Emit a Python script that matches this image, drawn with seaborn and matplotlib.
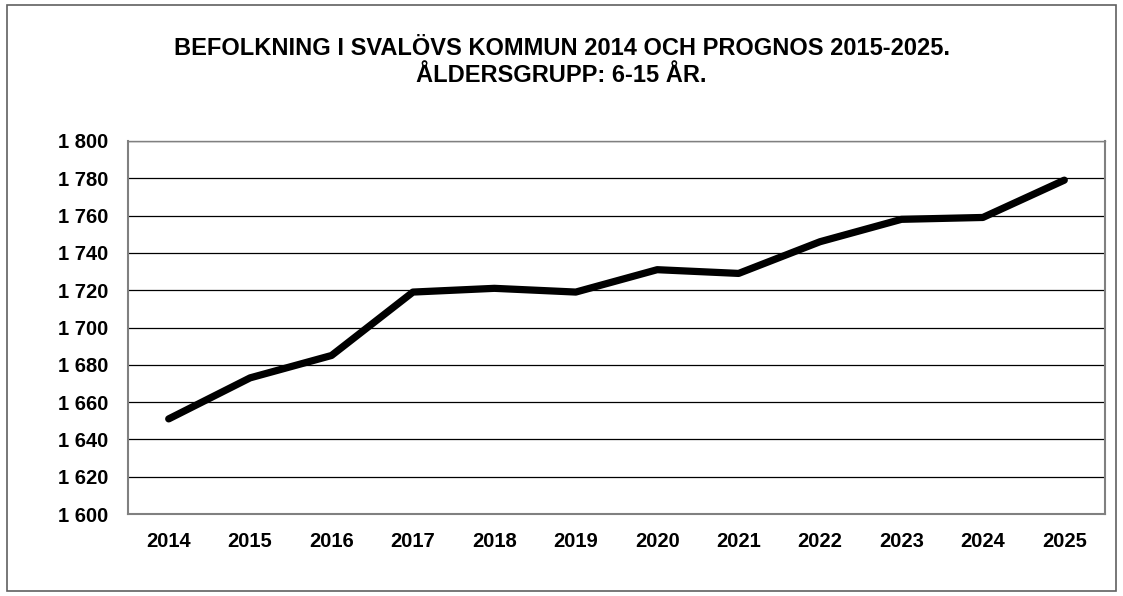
import matplotlib
matplotlib.use("Agg")
import matplotlib.pyplot as plt
import seaborn as sns
import pandas as pd
from matplotlib.patches import Rectangle
from matplotlib.ticker import FuncFormatter, FixedLocator

years = ["2014", "2015", "2016", "2017", "2018", "2019", "2020", "2021", "2022", "2023", "2024", "2025"]
population = [1651, 1673, 1685, 1719, 1721, 1719, 1731, 1729, 1746, 1758, 1759, 1779]
title = "BEFOLKNING I SVALÖVS KOMMUN 2014 OCH PROGNOS 2015-2025.\nÅLDERSGRUPP: 6-15 ÅR."

sns.set_style("white")
plt.rcParams['font.family'] = ['Liberation Sans', 'DejaVu Sans']
plt.rcParams['text.color'] = 'black'
plt.rcParams['xtick.color'] = 'black'
plt.rcParams['ytick.color'] = 'black'

df = pd.DataFrame({"year": years, "pop": population})
df["x"] = range(len(years))

fig = plt.figure(figsize=(11.23, 5.96), dpi=100)
ax = fig.add_axes([128/1123, 1 - 514/596, (1105 - 128)/1123, (514 - 141)/596])

sns.lineplot(data=df, x="x", y="pop", ax=ax, color="black", linewidth=5.2,
             solid_capstyle="round", solid_joinstyle="round", zorder=5)

ax.set_xlim(-0.5, len(years) - 0.5)
ax.set_ylim(1600, 1800)
ax.set_yticks(range(1600, 1801, 20))
ax.yaxis.set_major_formatter(FuncFormatter(lambda v, p: f"{int(v):,}".replace(",", " ")))
ax.set_xticks(range(len(years)))
ax.set_xticklabels(years)
ax.xaxis.set_minor_locator(FixedLocator([i - 0.5 for i in range(len(years) + 1)]))
ax.tick_params(axis="x", which="major", length=0, pad=13, labelsize=14.5, labelcolor="black")
ax.tick_params(axis="x", which="minor", length=5, width=1, color="#808080", direction="out")
ax.tick_params(axis="y", which="major", length=5, width=1, color="#808080", direction="out",
               pad=9, labelsize=14.5, labelcolor="black")
for lab in ax.get_xticklabels() + ax.get_yticklabels():
    lab.set_fontweight("bold")

ax.grid(axis="y", color="black", linewidth=0.9)
ax.set_axisbelow(True)
for side in ["left", "bottom", "right", "top"]:
    ax.spines[side].set_visible(True)
    ax.spines[side].set_color("#808080")
    ax.spines[side].set_linewidth(1.5)
ax.spines["top"].set_linewidth(1.0)
ax.set_xlabel("")
ax.set_ylabel("")

fig.text(0.5, 1 - 62/596, title, ha="center", va="center", fontsize=17,
         fontweight="bold", linespacing=1.27, color="black")

fig.patches.append(Rectangle((7/1123, 1 - 591/596), (1116 - 7)/1123, (591 - 5)/596,
                             transform=fig.transFigure, fill=False,
                             edgecolor="#606060", linewidth=1.2))

fig.savefig("out.png", dpi=100)
